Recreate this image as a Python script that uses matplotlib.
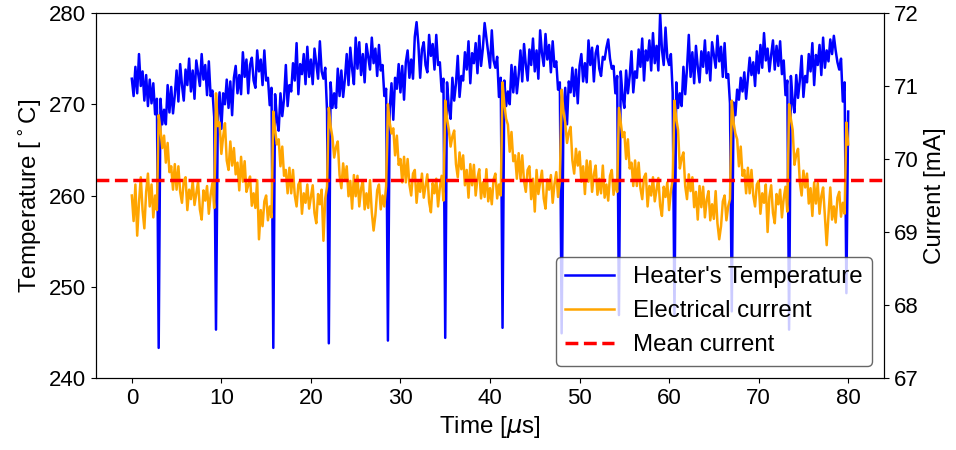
"""Heater temperature and electrical current versus time (twin y axes)."""

import numpy as np
import matplotlib

matplotlib.use("Agg")
import matplotlib.pyplot as plt

plt.rcParams["font.family"] = ["Liberation Sans", "DejaVu Sans"]

# Sampling step of the traces, in microseconds
dt_us = 0.2

# Heater temperature [degC], one value every 0.2 us from t = 0
temperature = [
    # 0.0 - 3.0 us
    272.8, 270.9, 274.1, 271.2, 275.5, 272.0, 273.6, 270.4, 273.2, 269.8,
    272.7, 270.1, 272.3, 268.9, 270.6, 243.3,
    # period 1
    270.6, 267.8, 269.4, 267.8, 272.1, 269.1, 271.9, 269.0, 271.0, 273.7,
    270.3, 274.4, 272.1, 270.4, 273.8, 272.1, 275.0, 271.4, 273.7, 270.6,
    274.8, 273.4, 272.0, 275.5, 272.7, 274.3, 271.0, 274.7, 270.9, 271.5,
    268.6, 245.3,
    # period 2
    268.5, 271.3, 267.3, 271.2, 270.0, 272.7, 269.6, 272.5, 268.8, 272.9,
    274.2, 271.2, 273.2, 271.1, 275.7, 273.0, 274.9, 271.2, 274.3, 275.1,
    272.6, 271.8, 275.9, 273.6, 274.9, 272.1, 275.9, 272.6, 272.9, 269.9,
    271.8, 243.3,
    # period 3
    271.1, 268.4, 267.1, 271.2, 268.7, 270.6, 274.3, 269.8, 272.1, 271.4,
    274.5, 272.6, 276.7, 271.1, 274.4, 273.3, 275.5, 272.2, 276.3, 273.0,
    274.9, 272.2, 276.1, 274.5, 272.8, 276.9, 273.6, 272.8, 274.0, 269.3,
    243.8,
    # period 4
    272.4, 269.6, 271.2, 269.6, 273.9, 270.9, 273.7, 270.8, 272.8, 275.5,
    272.1, 276.2, 273.9, 272.2, 277.3, 273.9, 276.8, 273.2, 275.5, 272.4,
    276.6, 275.2, 273.8, 277.3, 274.5, 276.1, 273.1, 276.5, 273.7, 274.3,
    270.9, 271.7, 244.1,
    # period 5
    269.5, 272.3, 268.3, 272.9, 271.7, 274.4, 271.3, 274.2, 270.5, 274.6,
    275.9, 272.9, 274.9, 272.8, 277.4, 279.0, 276.6, 272.9, 276.0, 276.8,
    274.3, 273.5, 277.6, 275.3, 276.6, 273.8, 277.6, 274.3, 274.6, 271.4,
    272.8, 244.4,
    # period 6
    272.4, 269.7, 268.4, 272.9, 270.4, 272.3, 275.3, 270.8, 273.1, 272.6,
    275.7, 273.8, 276.9, 272.3, 275.6, 274.5, 276.7, 273.4, 277.5, 274.2,
    276.1, 278.9, 277.3, 275.7, 274.0, 278.1, 274.8, 274.0, 275.2, 270.8,
    272.9, 245.5,
    # period 7
    272.6, 269.8, 271.4, 270.0, 274.3, 271.3, 274.1, 271.2, 273.2, 275.9,
    272.5, 276.6, 274.3, 272.6, 276.0, 274.3, 277.2, 273.6, 275.9, 272.8,
    278.1, 275.6, 274.2, 277.7, 274.9, 276.5, 273.5, 276.9, 274.1, 274.7,
    271.6, 272.4, 244.9,
    # period 8
    269.0, 271.8, 267.8, 272.5, 271.3, 274.0, 270.9, 273.8, 270.1, 274.2,
    275.5, 272.5, 274.5, 272.4, 277.0, 274.3, 276.2, 272.5, 275.6, 276.4,
    273.9, 273.1, 275.2, 274.9, 276.2, 277.1, 275.0, 273.9, 274.2, 271.2,
    273.1, 246.9,
    # period 9
    273.6, 270.9, 269.6, 273.7, 271.2, 273.1, 275.8, 271.3, 273.6, 272.9,
    276.0, 274.1, 277.2, 272.6, 275.9, 274.8, 277.0, 273.7, 277.8, 274.5,
    276.4, 273.7, 279.9, 276.0, 274.3, 278.4, 275.1, 274.3, 275.5, 271.3,
    246.8,
    # period 10
    272.4, 269.6, 271.2, 269.8, 274.1, 271.1, 273.9, 277.6, 273.0, 275.7,
    272.3, 276.4, 274.1, 272.4, 275.8, 274.1, 277.0, 273.4, 275.7, 272.6,
    276.8, 275.4, 274.0, 277.5, 274.7, 276.3, 273.0, 276.7, 272.9, 273.3,
    270.1, 247.3,
    # period 11
    270.2, 268.8, 271.6, 270.5, 272.9, 271.4, 273.5, 270.6, 272.8, 275.1,
    273.2, 274.6, 272.0, 275.8, 273.4, 276.5, 274.0, 277.8, 274.8, 276.1,
    273.6, 275.4, 277.0, 273.8, 276.4, 274.2, 276.9, 273.3, 274.8, 271.0,
    272.6, 245.3,
    # period 12
    273.1, 270.4, 269.1, 273.2, 270.7, 272.6, 275.3, 270.8, 273.1, 272.4,
    275.5, 273.6, 276.7, 272.1, 275.4, 274.3, 276.5, 273.2, 277.3, 274.0,
    275.9, 274.7, 277.1, 275.5, 277.5, 275.9, 274.6, 273.8, 275.0, 270.3,
    272.4, 249.3, 269.2,
]

# Electrical current [mA], same sampling
current = [
    # 0.0 - 3.0 us
    69.5, 69.15, 69.65, 68.95, 69.4, 69.75, 69.3, 69.05, 69.55, 69.8,
    69.35, 69.65, 69.2, 69.5, 69.3, 70.6,
    # period 1
    70.4, 70.15, 70.32, 69.95, 70.22, 69.82, 69.9, 69.58, 69.93, 69.58,
    69.9, 69.55, 69.4, 69.7, 69.75, 69.3, 69.58, 69.45, 69.7, 69.37,
    69.53, 69.69, 69.31, 69.17, 69.57, 69.43, 69.63, 69.25, 69.51, 69.67,
    69.33, 70.9,
    # period 2
    70.45, 70.5, 70.07, 70.31, 70.49, 69.98, 69.85, 70.24, 69.91, 70.15,
    69.79, 69.95, 69.57, 70.03, 69.69, 69.97, 69.55, 69.64, 69.76, 69.36,
    69.53, 69.33, 69.71, 68.9, 69.3, 69.08, 69.42, 69.5, 69.16, 69.35,
    69.2, 70.65,
    # period 3
    70.4, 70.2, 70.27, 69.9, 70.17, 69.77, 69.85, 69.53, 69.88, 69.53,
    69.85, 69.5, 69.35, 69.65, 69.7, 69.25, 69.53, 69.4, 69.65, 69.32,
    69.48, 69.64, 69.26, 69.12, 69.52, 69.38, 69.58, 68.88, 69.46, 69.62,
    70.7,
    # period 4
    70.45, 70.3, 70.02, 70.16, 70.24, 69.78, 69.6, 69.94, 69.71, 69.9,
    69.49, 69.7, 69.32, 69.78, 69.49, 69.77, 69.35, 69.59, 69.71, 69.31,
    69.53, 69.33, 69.71, 69.27, 69.02, 69.23, 69.57, 69.65, 69.31, 69.5,
    69.35, 69.63, 70.75,
    # period 5
    70.5, 70.35, 70.42, 70.05, 70.32, 69.92, 70.0, 69.68, 70.03, 69.68,
    70.0, 69.65, 69.5, 69.8, 69.85, 69.4, 69.68, 69.55, 69.8, 69.47,
    69.63, 69.79, 69.41, 69.27, 69.67, 69.53, 69.73, 69.35, 69.61, 69.77,
    69.43, 70.8,
    # period 6
    70.55, 70.4, 70.17, 70.31, 70.39, 69.93, 69.75, 70.09, 69.86, 70.05,
    69.64, 69.85, 69.47, 69.93, 69.64, 69.92, 69.5, 69.74, 69.86, 69.46,
    69.68, 69.48, 69.86, 69.42, 69.6, 69.38, 69.72, 69.8, 69.46, 69.65,
    69.5, 71.05,
    # period 7
    70.75, 70.55, 70.47, 70.1, 70.37, 69.97, 70.05, 69.73, 70.08, 69.73,
    70.05, 69.7, 69.55, 69.85, 69.9, 69.45, 69.73, 69.28, 69.85, 69.52,
    69.68, 69.84, 69.46, 69.32, 69.72, 69.58, 69.78, 69.4, 69.66, 69.82,
    69.48, 69.7, 70.95,
    # period 8
    70.65, 70.5, 70.22, 70.36, 70.44, 69.98, 69.8, 70.14, 69.91, 70.1,
    69.69, 69.9, 69.52, 69.98, 69.69, 69.97, 69.55, 69.79, 69.91, 69.51,
    69.73, 69.53, 69.91, 69.47, 69.65, 69.43, 69.77, 69.85, 69.51, 69.7,
    69.55, 70.7,
    # period 9
    70.5, 70.3, 70.37, 70.0, 70.27, 69.87, 69.95, 69.63, 69.98, 69.63,
    69.95, 69.6, 69.45, 69.75, 69.8, 69.35, 69.63, 69.5, 69.75, 69.42,
    69.58, 69.74, 69.36, 69.22, 69.62, 69.48, 69.68, 69.3, 69.56, 69.72,
    70.8,
    # period 10
    70.55, 70.4, 69.87, 70.01, 70.09, 69.63, 69.45, 69.79, 69.56, 69.75,
    69.34, 69.55, 69.17, 69.63, 69.34, 69.62, 69.2, 69.44, 69.56, 69.16,
    69.38, 69.18, 69.56, 69.12, 68.9, 69.08, 69.42, 69.5, 69.16, 69.35,
    69.45, 70.8,
    # period 11
    70.5, 70.35, 70.27, 69.9, 70.17, 69.77, 69.85, 69.53, 69.88, 69.53,
    69.85, 69.5, 69.35, 69.65, 69.7, 69.25, 69.53, 69.4, 69.65, 69.0,
    69.48, 69.64, 69.26, 69.12, 69.52, 69.38, 69.58, 69.2, 69.46, 69.62,
    69.28, 70.75,
    # period 12
    70.55, 70.4, 69.92, 70.06, 70.14, 69.68, 69.5, 69.84, 69.61, 69.8,
    69.39, 69.6, 69.22, 69.68, 69.39, 69.67, 69.25, 69.49, 69.61, 69.21,
    68.82, 69.23, 69.61, 69.17, 69.35, 69.13, 69.47, 69.55, 69.21, 69.4,
    69.25, 70.5, 70.2,
]

# Mean of the current trace as drawn in the figure [mA]
mean_current = 69.71

x_ticks = [0, 10, 20, 30, 40, 50, 60, 70, 80]

time_T = np.arange(len(temperature)) * dt_us
time_I = np.arange(len(current)) * dt_us

fig = plt.figure(figsize=(9.56, 4.5), dpi=100)
fig.subplots_adjust(left=96 / 956, right=884 / 956, top=1 - 13 / 450, bottom=1 - 378 / 450)
ax = fig.add_subplot(111)
ax2 = ax.twinx()

l1, = ax.plot(time_T, temperature, color="blue", lw=1.8, label="Heater's Temperature")
l2, = ax2.plot(time_I, current, color="orange", lw=1.8, label="Electrical current")
l3 = ax2.axhline(mean_current, color="red", ls="--", lw=2.5, label="Mean current")

ax.set_ylim(240, 280)
ax2.set_ylim(67, 72)
ax.set_xticks(x_ticks)
ax.set_yticks([240, 250, 260, 270, 280])
ax2.set_yticks([67, 68, 69, 70, 71, 72])

ax.tick_params(labelsize=16)
ax2.tick_params(labelsize=16)
ax.set_xlabel(r"Time [$\mu$s]", fontsize=17.4)
ax.set_ylabel(r"Temperature [$^\circ$C]", fontsize=17.4)
ax2.set_ylabel("Current [mA]", fontsize=17.4)

leg = ax2.legend(handles=[l1, l2, l3], loc="lower right", fontsize=17.3)
leg.get_frame().set_edgecolor("0.25")

fig.savefig("out.png", dpi=100)
